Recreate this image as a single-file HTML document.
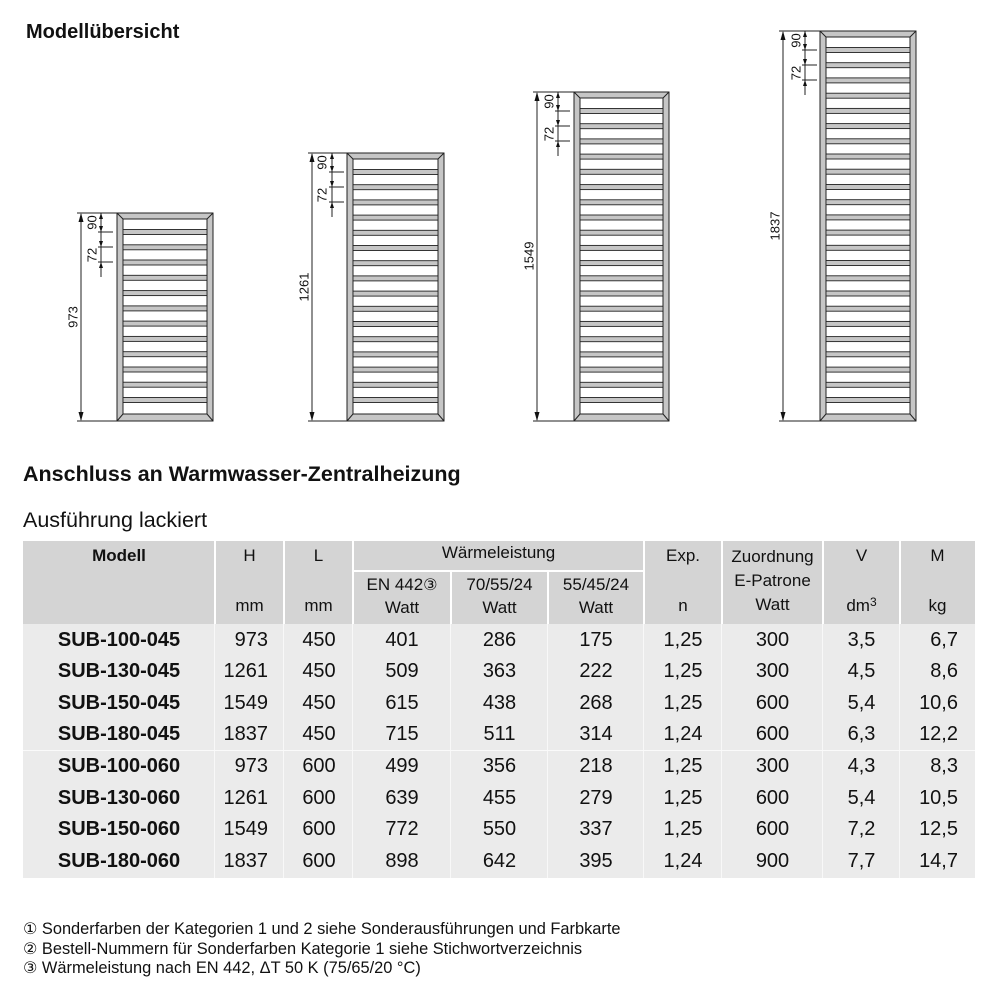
<!DOCTYPE html>
<html>
<head>
<meta charset="utf-8">
<style>
html,body{margin:0;padding:0;background:#fff;}
#c{position:relative;width:1000px;height:1000px;overflow:hidden;font-family:"Liberation Sans","DejaVu Sans",sans-serif;color:#111;}
.a{position:absolute;white-space:nowrap;}
.c{position:absolute;white-space:nowrap;transform:translateX(-50%);text-align:center;}
.r{position:absolute;white-space:nowrap;}
.h{font-size:17px;height:22px;line-height:22px;}
.b{font-size:20px;height:24px;line-height:24px;}
.bold{font-weight:bold;}
.bg{position:absolute;}
svg{position:absolute;left:0;top:0;}
</style>
</head>
<body>
<div id="c">
<svg width="1000" height="440" viewBox="0 0 1000 440" font-family="Liberation Sans, sans-serif" font-size="13" fill="#111">
<!-- ===== Radiator 1 ===== -->
<g stroke="#222" stroke-width="1">
<rect x="117" y="213" width="96" height="208" fill="#c6c6c6"/>
<rect x="123" y="219" width="84" height="195" fill="#fff"/>
<line x1="117" y1="213" x2="123" y2="219"/><line x1="213" y1="213" x2="207" y2="219"/>
<line x1="117" y1="421" x2="123" y2="414"/><line x1="213" y1="421" x2="207" y2="414"/>
<g fill="#c6c6c6" stroke-width="0.9">
<rect x="123" y="229.5" width="84" height="5"/><rect x="123" y="244.8" width="84" height="5"/><rect x="123" y="260" width="84" height="5"/><rect x="123" y="275.3" width="84" height="5"/><rect x="123" y="290.6" width="84" height="5"/><rect x="123" y="305.9" width="84" height="5"/><rect x="123" y="321.1" width="84" height="5"/><rect x="123" y="336.4" width="84" height="5"/><rect x="123" y="351.7" width="84" height="5"/><rect x="123" y="367" width="84" height="5"/><rect x="123" y="382.2" width="84" height="5"/><rect x="123" y="397.5" width="84" height="5"/>
</g>
<line x1="81" y1="214" x2="81" y2="420"/>
<line x1="77" y1="213" x2="117" y2="213"/><line x1="77" y1="421" x2="117" y2="421"/>
<line x1="101" y1="213" x2="101" y2="277"/>
<line x1="98" y1="232" x2="113" y2="232"/><line x1="98" y1="247" x2="113" y2="247"/><line x1="98" y1="262" x2="113" y2="262"/>
</g>
<g fill="#111" stroke="none">
<polygon points="81,213 78.5,222 83.5,222"/><polygon points="81,421 78.5,412 83.5,412"/>
<polygon points="101,213 99,219 103,219"/><polygon points="101,232 99,226 103,226"/>
<polygon points="101,247 99,241 103,241"/><polygon points="101,262 99,268 103,268"/>
</g>
<text transform="translate(73,317) rotate(-90)" text-anchor="middle" dominant-baseline="central">973</text>
<text transform="translate(92,222.5) rotate(-90)" text-anchor="middle" dominant-baseline="central">90</text>
<text transform="translate(92,255) rotate(-90)" text-anchor="middle" dominant-baseline="central">72</text>

<!-- ===== Radiator 2 ===== -->
<g stroke="#222" stroke-width="1">
<rect x="347" y="153" width="97" height="268" fill="#c6c6c6"/>
<rect x="353" y="159" width="85" height="255" fill="#fff"/>
<line x1="347" y1="153" x2="353" y2="159"/><line x1="444" y1="153" x2="438" y2="159"/>
<line x1="347" y1="421" x2="353" y2="414"/><line x1="444" y1="421" x2="438" y2="414"/>
<g fill="#c6c6c6" stroke-width="0.9">
<rect x="353" y="169.5" width="85" height="5"/><rect x="353" y="184.7" width="85" height="5"/><rect x="353" y="199.9" width="85" height="5"/><rect x="353" y="215.1" width="85" height="5"/><rect x="353" y="230.3" width="85" height="5"/><rect x="353" y="245.5" width="85" height="5"/><rect x="353" y="260.7" width="85" height="5"/><rect x="353" y="275.9" width="85" height="5"/><rect x="353" y="291.1" width="85" height="5"/><rect x="353" y="306.3" width="85" height="5"/><rect x="353" y="321.5" width="85" height="5"/><rect x="353" y="336.7" width="85" height="5"/><rect x="353" y="351.9" width="85" height="5"/><rect x="353" y="367.1" width="85" height="5"/><rect x="353" y="382.3" width="85" height="5"/><rect x="353" y="397.5" width="85" height="5"/>
</g>
<line x1="312" y1="154" x2="312" y2="420"/>
<line x1="308" y1="153" x2="347" y2="153"/><line x1="308" y1="421" x2="347" y2="421"/>
<line x1="332" y1="153" x2="332" y2="217"/>
<line x1="329" y1="172" x2="344" y2="172"/><line x1="329" y1="187" x2="344" y2="187"/><line x1="329" y1="202" x2="344" y2="202"/>
</g>
<g fill="#111" stroke="none">
<polygon points="312,153 309.5,162 314.5,162"/><polygon points="312,421 309.5,412 314.5,412"/>
<polygon points="332,153 330,159 334,159"/><polygon points="332,172 330,166 334,166"/>
<polygon points="332,187 330,181 334,181"/><polygon points="332,202 330,208 334,208"/>
</g>
<text transform="translate(304,287) rotate(-90)" text-anchor="middle" dominant-baseline="central">1261</text>
<text transform="translate(322,162.5) rotate(-90)" text-anchor="middle" dominant-baseline="central">90</text>
<text transform="translate(322,195) rotate(-90)" text-anchor="middle" dominant-baseline="central">72</text>

<!-- ===== Radiator 3 ===== -->
<g stroke="#222" stroke-width="1">
<rect x="574" y="92" width="95" height="329" fill="#c6c6c6"/>
<rect x="580" y="98" width="83" height="316" fill="#fff"/>
<line x1="574" y1="92" x2="580" y2="98"/><line x1="669" y1="92" x2="663" y2="98"/>
<line x1="574" y1="421" x2="580" y2="414"/><line x1="669" y1="421" x2="663" y2="414"/>
<g fill="#c6c6c6" stroke-width="0.9">
<rect x="580" y="108.5" width="83" height="5"/><rect x="580" y="123.7" width="83" height="5"/><rect x="580" y="138.9" width="83" height="5"/><rect x="580" y="154.1" width="83" height="5"/><rect x="580" y="169.3" width="83" height="5"/><rect x="580" y="184.6" width="83" height="5"/><rect x="580" y="199.8" width="83" height="5"/><rect x="580" y="215" width="83" height="5"/><rect x="580" y="230.2" width="83" height="5"/><rect x="580" y="245.4" width="83" height="5"/><rect x="580" y="260.6" width="83" height="5"/><rect x="580" y="275.8" width="83" height="5"/><rect x="580" y="291" width="83" height="5"/><rect x="580" y="306.2" width="83" height="5"/><rect x="580" y="321.4" width="83" height="5"/><rect x="580" y="336.7" width="83" height="5"/><rect x="580" y="351.9" width="83" height="5"/><rect x="580" y="367.1" width="83" height="5"/><rect x="580" y="382.3" width="83" height="5"/><rect x="580" y="397.5" width="83" height="5"/>
</g>
<line x1="537" y1="93" x2="537" y2="420"/>
<line x1="533" y1="92" x2="574" y2="92"/><line x1="533" y1="421" x2="574" y2="421"/>
<line x1="558" y1="92" x2="558" y2="156"/>
<line x1="555" y1="111" x2="570" y2="111"/><line x1="555" y1="126" x2="570" y2="126"/><line x1="555" y1="141" x2="570" y2="141"/>
</g>
<g fill="#111" stroke="none">
<polygon points="537,92 534.5,101 539.5,101"/><polygon points="537,421 534.5,412 539.5,412"/>
<polygon points="558,92 556,98 560,98"/><polygon points="558,111 556,105 560,105"/>
<polygon points="558,126 556,120 560,120"/><polygon points="558,141 556,147 560,147"/>
</g>
<text transform="translate(529,256) rotate(-90)" text-anchor="middle" dominant-baseline="central">1549</text>
<text transform="translate(549,101.5) rotate(-90)" text-anchor="middle" dominant-baseline="central">90</text>
<text transform="translate(549,134) rotate(-90)" text-anchor="middle" dominant-baseline="central">72</text>

<!-- ===== Radiator 4 ===== -->
<g stroke="#222" stroke-width="1">
<rect x="820" y="31" width="96" height="390" fill="#c6c6c6"/>
<rect x="826" y="37" width="84" height="377" fill="#fff"/>
<line x1="820" y1="31" x2="826" y2="37"/><line x1="916" y1="31" x2="910" y2="37"/>
<line x1="820" y1="421" x2="826" y2="414"/><line x1="916" y1="421" x2="910" y2="414"/>
<g fill="#c6c6c6" stroke-width="0.9">
<rect x="826" y="47.5" width="84" height="5"/><rect x="826" y="62.7" width="84" height="5"/><rect x="826" y="77.9" width="84" height="5"/><rect x="826" y="93.2" width="84" height="5"/><rect x="826" y="108.4" width="84" height="5"/><rect x="826" y="123.6" width="84" height="5"/><rect x="826" y="138.8" width="84" height="5"/><rect x="826" y="154" width="84" height="5"/><rect x="826" y="169.2" width="84" height="5"/><rect x="826" y="184.5" width="84" height="5"/><rect x="826" y="199.7" width="84" height="5"/><rect x="826" y="214.9" width="84" height="5"/><rect x="826" y="230.1" width="84" height="5"/><rect x="826" y="245.3" width="84" height="5"/><rect x="826" y="260.5" width="84" height="5"/><rect x="826" y="275.8" width="84" height="5"/><rect x="826" y="291" width="84" height="5"/><rect x="826" y="306.2" width="84" height="5"/><rect x="826" y="321.4" width="84" height="5"/><rect x="826" y="336.6" width="84" height="5"/><rect x="826" y="351.8" width="84" height="5"/><rect x="826" y="367.1" width="84" height="5"/><rect x="826" y="382.3" width="84" height="5"/><rect x="826" y="397.5" width="84" height="5"/>
</g>
<line x1="783" y1="32" x2="783" y2="420"/>
<line x1="779" y1="31" x2="820" y2="31"/><line x1="779" y1="421" x2="820" y2="421"/>
<line x1="805" y1="31" x2="805" y2="95"/>
<line x1="802" y1="50" x2="817" y2="50"/><line x1="802" y1="65" x2="817" y2="65"/><line x1="802" y1="80" x2="817" y2="80"/>
</g>
<g fill="#111" stroke="none">
<polygon points="783,31 780.5,40 785.5,40"/><polygon points="783,421 780.5,412 785.5,412"/>
<polygon points="805,31 803,37 807,37"/><polygon points="805,50 803,44 807,44"/>
<polygon points="805,65 803,59 807,59"/><polygon points="805,80 803,86 807,86"/>
</g>
<text transform="translate(775,226) rotate(-90)" text-anchor="middle" dominant-baseline="central">1837</text>
<text transform="translate(796,40.5) rotate(-90)" text-anchor="middle" dominant-baseline="central">90</text>
<text transform="translate(796,73) rotate(-90)" text-anchor="middle" dominant-baseline="central">72</text>
</svg>

<!-- Titles -->
<div class="a bold" style="left:26px;top:20px;font-size:20px;line-height:24px;">Modellübersicht</div>
<div class="a bold" style="left:23px;top:461px;font-size:21.5px;line-height:26px;">Anschluss an Warmwasser-Zentralheizung</div>
<div class="a" style="left:23px;top:507px;font-size:21.5px;line-height:26px;">Ausführung lackiert</div>

<!-- Table backgrounds -->
<div class="bg" style="left:23px;top:541px;width:952px;height:83px;background:#d4d4d4;"></div>
<div class="bg" style="left:23px;top:624px;width:952px;height:254px;background:#ebebeb;"></div>
<!-- header separators -->
<div class="bg" style="left:214px;top:541px;width:2px;height:83px;background:#fff;"></div>
<div class="bg" style="left:283px;top:541px;width:2px;height:83px;background:#fff;"></div>
<div class="bg" style="left:352px;top:541px;width:2px;height:83px;background:#fff;"></div>
<div class="bg" style="left:450px;top:571px;width:2px;height:53px;background:#fff;"></div>
<div class="bg" style="left:547px;top:571px;width:2px;height:53px;background:#fff;"></div>
<div class="bg" style="left:643px;top:541px;width:2px;height:83px;background:#fff;"></div>
<div class="bg" style="left:721px;top:541px;width:2px;height:83px;background:#fff;"></div>
<div class="bg" style="left:822px;top:541px;width:2px;height:83px;background:#fff;"></div>
<div class="bg" style="left:899px;top:541px;width:2px;height:83px;background:#fff;"></div>
<div class="bg" style="left:353px;top:570px;width:291px;height:2px;background:#fff;"></div>
<!-- body separators -->
<div class="bg" style="left:214px;top:624px;width:1px;height:254px;background:#f8f8f8;"></div>
<div class="bg" style="left:283px;top:624px;width:1px;height:254px;background:#f8f8f8;"></div>
<div class="bg" style="left:352px;top:624px;width:1px;height:254px;background:#f8f8f8;"></div>
<div class="bg" style="left:450px;top:624px;width:1px;height:254px;background:#f8f8f8;"></div>
<div class="bg" style="left:547px;top:624px;width:1px;height:254px;background:#f8f8f8;"></div>
<div class="bg" style="left:643px;top:624px;width:1px;height:254px;background:#f8f8f8;"></div>
<div class="bg" style="left:721px;top:624px;width:1px;height:254px;background:#f8f8f8;"></div>
<div class="bg" style="left:822px;top:624px;width:1px;height:254px;background:#f8f8f8;"></div>
<div class="bg" style="left:899px;top:624px;width:1px;height:254px;background:#f8f8f8;"></div>
<div class="bg" style="left:23px;top:750px;width:952px;height:1px;background:#fafafa;"></div>

<!-- Header text -->
<div class="c h bold" style="left:119px;top:545px;">Modell</div>
<div class="c h" style="left:249.5px;top:545px;">H</div>
<div class="c h" style="left:249.5px;top:595px;">mm</div>
<div class="c h" style="left:318.5px;top:545px;">L</div>
<div class="c h" style="left:318.5px;top:595px;">mm</div>
<div class="c h" style="left:498.5px;top:542px;">Wärmeleistung</div>
<div class="c h" style="left:402px;top:574px;">EN 442<span style="font-size:16px;">③</span></div>
<div class="c h" style="left:402px;top:597px;">Watt</div>
<div class="c h" style="left:499.5px;top:574px;">70/55/24</div>
<div class="c h" style="left:499.5px;top:597px;">Watt</div>
<div class="c h" style="left:596px;top:574px;">55/45/24</div>
<div class="c h" style="left:596px;top:597px;">Watt</div>
<div class="c h" style="left:683px;top:545px;">Exp.</div>
<div class="c h" style="left:683px;top:595px;">n</div>
<div class="c h" style="left:772.5px;top:546px;">Zuordnung</div>
<div class="c h" style="left:772.5px;top:570px;">E-Patrone</div>
<div class="c h" style="left:772.5px;top:594px;">Watt</div>
<div class="c h" style="left:861.5px;top:545px;">V</div>
<div class="c h" style="left:861.5px;top:595px;">dm<span style="font-size:12px;position:relative;top:-5px;">3</span></div>
<div class="c h" style="left:937.5px;top:545px;">M</div>
<div class="c h" style="left:937.5px;top:595px;">kg</div>

<!-- Body rows -->
<div class="c b bold" style="left:119px;top:627.5px;">SUB-100-045</div>
<div class="r b" style="right:732px;top:627.5px;">973</div>
<div class="c b" style="left:319px;top:627.5px;">450</div>
<div class="c b" style="left:402px;top:627.5px;">401</div>
<div class="c b" style="left:499.5px;top:627.5px;">286</div>
<div class="c b" style="left:596px;top:627.5px;">175</div>
<div class="c b" style="left:683px;top:627.5px;">1,25</div>
<div class="c b" style="left:772.5px;top:627.5px;">300</div>
<div class="c b" style="left:861.5px;top:627.5px;">3,5</div>
<div class="r b" style="right:42px;top:627.5px;">6,7</div>

<div class="c b bold" style="left:119px;top:659px;">SUB-130-045</div>
<div class="r b" style="right:732px;top:659px;">1261</div>
<div class="c b" style="left:319px;top:659px;">450</div>
<div class="c b" style="left:402px;top:659px;">509</div>
<div class="c b" style="left:499.5px;top:659px;">363</div>
<div class="c b" style="left:596px;top:659px;">222</div>
<div class="c b" style="left:683px;top:659px;">1,25</div>
<div class="c b" style="left:772.5px;top:659px;">300</div>
<div class="c b" style="left:861.5px;top:659px;">4,5</div>
<div class="r b" style="right:42px;top:659px;">8,6</div>

<div class="c b bold" style="left:119px;top:690.5px;">SUB-150-045</div>
<div class="r b" style="right:732px;top:690.5px;">1549</div>
<div class="c b" style="left:319px;top:690.5px;">450</div>
<div class="c b" style="left:402px;top:690.5px;">615</div>
<div class="c b" style="left:499.5px;top:690.5px;">438</div>
<div class="c b" style="left:596px;top:690.5px;">268</div>
<div class="c b" style="left:683px;top:690.5px;">1,25</div>
<div class="c b" style="left:772.5px;top:690.5px;">600</div>
<div class="c b" style="left:861.5px;top:690.5px;">5,4</div>
<div class="r b" style="right:42px;top:690.5px;">10,6</div>

<div class="c b bold" style="left:119px;top:722px;">SUB-180-045</div>
<div class="r b" style="right:732px;top:722px;">1837</div>
<div class="c b" style="left:319px;top:722px;">450</div>
<div class="c b" style="left:402px;top:722px;">715</div>
<div class="c b" style="left:499.5px;top:722px;">511</div>
<div class="c b" style="left:596px;top:722px;">314</div>
<div class="c b" style="left:683px;top:722px;">1,24</div>
<div class="c b" style="left:772.5px;top:722px;">600</div>
<div class="c b" style="left:861.5px;top:722px;">6,3</div>
<div class="r b" style="right:42px;top:722px;">12,2</div>

<div class="c b bold" style="left:119px;top:754px;">SUB-100-060</div>
<div class="r b" style="right:732px;top:754px;">973</div>
<div class="c b" style="left:319px;top:754px;">600</div>
<div class="c b" style="left:402px;top:754px;">499</div>
<div class="c b" style="left:499.5px;top:754px;">356</div>
<div class="c b" style="left:596px;top:754px;">218</div>
<div class="c b" style="left:683px;top:754px;">1,25</div>
<div class="c b" style="left:772.5px;top:754px;">300</div>
<div class="c b" style="left:861.5px;top:754px;">4,3</div>
<div class="r b" style="right:42px;top:754px;">8,3</div>

<div class="c b bold" style="left:119px;top:785.5px;">SUB-130-060</div>
<div class="r b" style="right:732px;top:785.5px;">1261</div>
<div class="c b" style="left:319px;top:785.5px;">600</div>
<div class="c b" style="left:402px;top:785.5px;">639</div>
<div class="c b" style="left:499.5px;top:785.5px;">455</div>
<div class="c b" style="left:596px;top:785.5px;">279</div>
<div class="c b" style="left:683px;top:785.5px;">1,25</div>
<div class="c b" style="left:772.5px;top:785.5px;">600</div>
<div class="c b" style="left:861.5px;top:785.5px;">5,4</div>
<div class="r b" style="right:42px;top:785.5px;">10,5</div>

<div class="c b bold" style="left:119px;top:817px;">SUB-150-060</div>
<div class="r b" style="right:732px;top:817px;">1549</div>
<div class="c b" style="left:319px;top:817px;">600</div>
<div class="c b" style="left:402px;top:817px;">772</div>
<div class="c b" style="left:499.5px;top:817px;">550</div>
<div class="c b" style="left:596px;top:817px;">337</div>
<div class="c b" style="left:683px;top:817px;">1,25</div>
<div class="c b" style="left:772.5px;top:817px;">600</div>
<div class="c b" style="left:861.5px;top:817px;">7,2</div>
<div class="r b" style="right:42px;top:817px;">12,5</div>

<div class="c b bold" style="left:119px;top:849px;">SUB-180-060</div>
<div class="r b" style="right:732px;top:849px;">1837</div>
<div class="c b" style="left:319px;top:849px;">600</div>
<div class="c b" style="left:402px;top:849px;">898</div>
<div class="c b" style="left:499.5px;top:849px;">642</div>
<div class="c b" style="left:596px;top:849px;">395</div>
<div class="c b" style="left:683px;top:849px;">1,24</div>
<div class="c b" style="left:772.5px;top:849px;">900</div>
<div class="c b" style="left:861.5px;top:849px;">7,7</div>
<div class="r b" style="right:42px;top:849px;">14,7</div>

<!-- Footnotes -->
<div class="a" style="left:23px;top:919px;font-size:16.4px;line-height:20px;"><span style="font-size:16px;">①</span> Sonderfarben der Kategorien 1 und 2 siehe Sonderausführungen und Farbkarte</div>
<div class="a" style="left:23px;top:938.5px;font-size:16.4px;line-height:20px;"><span style="font-size:16px;">②</span> Bestell-Nummern für Sonderfarben Kategorie 1 siehe Stichwortverzeichnis</div>
<div class="a" style="left:23px;top:958px;font-size:16.4px;line-height:20px;"><span style="font-size:16px;">③</span> Wärmeleistung nach EN 442, ΔT 50 K (75/65/20 °C)</div>
</div>
</body>
</html>
